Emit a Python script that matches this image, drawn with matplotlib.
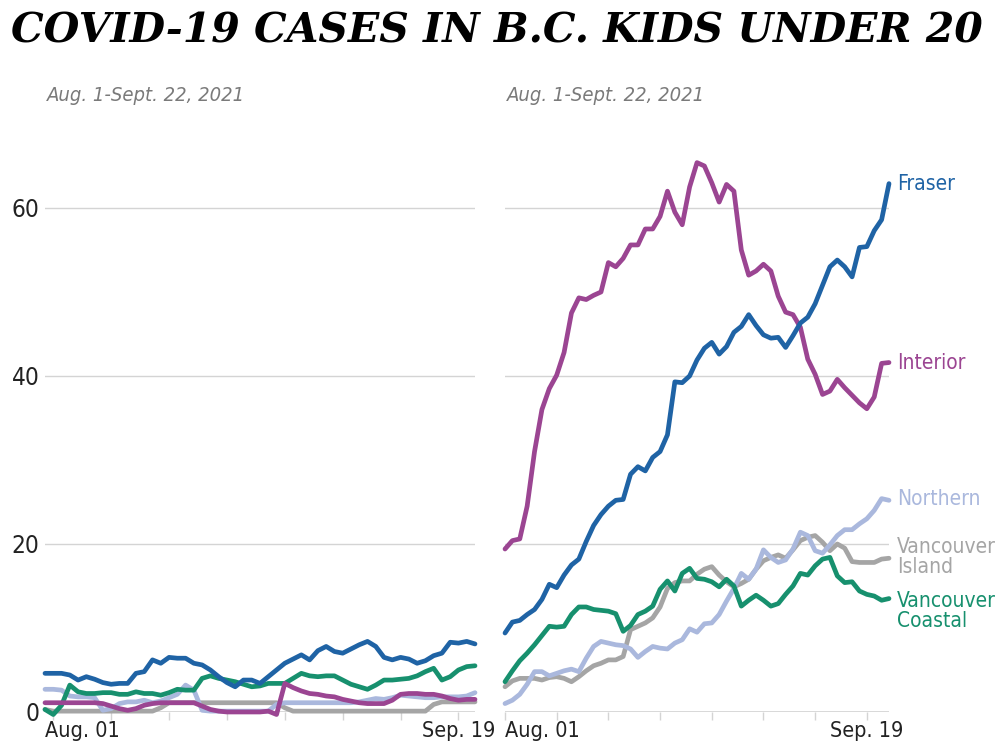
import matplotlib
matplotlib.use("Agg")
import matplotlib.pyplot as plt
import matplotlib.transforms as mtransforms
from matplotlib import font_manager
import numpy as np

# ---- data (7-day average cases) ----
# left panel: days relative to Aug. 1 (day 0), Jul. 31 .. Sep. 21
left_days = np.arange(-1, 52)
left_fraser = [4.6, 4.6, 4.6, 4.4, 3.8, 4.2, 3.9, 3.5, 3.3, 3.4, 3.4, 4.6, 4.8, 6.2, 5.8,
               6.5, 6.4, 6.4, 5.8, 5.6, 5.0, 4.2, 3.5, 3.0, 3.8, 3.8, 3.4, 4.2, 5.0, 5.8,
               6.3, 6.8, 6.2, 7.3, 7.8, 7.2, 7.0, 7.5, 8.0, 8.4, 7.8, 6.5, 6.2, 6.5, 6.3,
               5.8, 6.1, 6.7, 7.0, 8.3, 8.2, 8.4, 8.1]
left_interior = [1.1, 1.1, 1.1, 1.1, 1.1, 1.1, 1.1, 1.0, 0.7, 0.4, 0.2, 0.4, 0.8, 1.0, 1.1,
                 1.1, 1.1, 1.1, 1.1, 0.7, 0.3, 0.1, 0.0, 0.0, 0.0, 0.0, 0.0, 0.1, -0.3, 3.4,
                 2.9, 2.5, 2.2, 2.1, 1.9, 1.8, 1.5, 1.3, 1.1, 1.0, 1.0, 1.0, 1.4, 2.1, 2.2,
                 2.2, 2.1, 2.1, 1.9, 1.6, 1.4, 1.5, 1.5]
left_northern = [2.7, 2.7, 2.6, 1.9, 1.8, 1.8, 1.7, 0.2, 0.4, 1.0, 1.2, 1.2, 1.4, 1.1, 1.3,
                 1.7, 2.1, 3.2, 2.6, 0.2, 0.1, 0.1, 0.1, 0.1, 0.1, 0.1, 0.1, 0.1, 0.9, 1.1,
                 1.1, 1.1, 1.1, 1.1, 1.1, 1.1, 1.1, 1.1, 1.2, 1.4, 1.6, 1.5, 1.7, 2.0, 1.9,
                 1.8, 1.7, 1.7, 1.8, 1.8, 1.8, 1.9, 2.3]
left_island = [0.3, 0.1, 0.1, 0.1, 0.1, 0.1, 0.1, 0.1, 0.1, 0.1, 0.1, 0.1, 0.1, 0.1, 0.5,
               1.1, 1.1, 1.1, 1.1, 1.1, 1.1, 1.1, 1.1, 1.1, 1.1, 1.1, 1.1, 1.1, 1.1, 0.5,
               0.1, 0.1, 0.1, 0.1, 0.1, 0.1, 0.1, 0.1, 0.1, 0.1, 0.1, 0.1, 0.1, 0.1, 0.1,
               0.1, 0.1, 0.9, 1.2, 1.2, 1.2, 1.2, 1.2]
left_coastal = [0.3, -0.3, 0.8, 3.2, 2.4, 2.2, 2.2, 2.3, 2.3, 2.1, 2.1, 2.4, 2.2, 2.2, 2.0,
                2.3, 2.7, 2.6, 2.6, 4.0, 4.3, 4.0, 3.8, 3.6, 3.3, 3.0, 3.1, 3.4, 3.4, 3.4,
                4.0, 4.6, 4.3, 4.2, 4.3, 4.3, 3.8, 3.3, 3.0, 2.7, 3.2, 3.8, 3.8, 3.9, 4.0,
                4.3, 4.8, 5.2, 3.8, 4.2, 5.0, 5.4, 5.5]

# right panel: Aug. 1 (day 0) .. Sep. 22 (day 52)
right_days = np.arange(0, 53)
fraser = [9.4, 10.7, 10.9, 11.6, 12.2, 13.4, 15.2, 14.8, 16.3, 17.5, 18.2, 20.3, 22.2, 23.5,
          24.5, 25.2, 25.3, 28.3, 29.2, 28.7, 30.3, 31.0, 33.0, 39.3, 39.2, 40.0, 41.9, 43.3,
          44.0, 42.6, 43.5, 45.2, 45.9, 47.3, 46.0, 44.9, 44.5, 44.6, 43.4, 44.8, 46.3, 47.0,
          48.6, 50.8, 53.0, 53.8, 53.0, 51.8, 55.3, 55.4, 57.3, 58.6, 62.9]
interior = [19.4, 20.4, 20.6, 24.5, 31.0, 36.0, 38.5, 40.1, 42.8, 47.5, 49.3, 49.1, 49.6, 50.0,
            53.5, 53.0, 54.0, 55.6, 55.6, 57.5, 57.5, 59.0, 62.0, 59.5, 58.0, 62.5, 65.4, 65.0,
            63.0, 60.7, 62.8, 62.0, 55.0, 52.0, 52.5, 53.3, 52.5, 49.5, 47.6, 47.3, 45.8, 42.0,
            40.2, 37.8, 38.2, 39.6, 38.6, 37.7, 36.8, 36.1, 37.5, 41.5, 41.6]
northern = [1.0, 1.4, 2.1, 3.3, 4.8, 4.8, 4.3, 4.6, 4.9, 5.1, 4.8, 6.4, 7.8, 8.4, 8.2, 8.0,
            7.9, 7.5, 6.5, 7.2, 7.8, 7.6, 7.5, 8.2, 8.6, 9.9, 9.5, 10.5, 10.6, 11.6, 13.2, 14.7,
            16.5, 15.8, 17.0, 19.3, 18.4, 17.8, 18.1, 19.4, 21.4, 21.0, 19.2, 18.9, 19.9, 21.0,
            21.7, 21.7, 22.4, 23.0, 24.0, 25.4, 25.2]
island = [3.0, 3.7, 4.0, 4.0, 4.0, 3.8, 4.1, 4.2, 4.0, 3.6, 4.2, 4.9, 5.5, 5.8, 6.2, 6.2,
          6.6, 9.8, 10.2, 10.6, 11.2, 12.5, 14.7, 15.4, 15.6, 15.6, 16.4, 17.0, 17.3, 16.3,
          15.5, 14.9, 15.3, 15.8, 17.0, 18.0, 18.4, 18.7, 18.3, 19.3, 20.4, 20.8, 21.0, 20.2,
          19.2, 20.0, 19.5, 17.9, 17.8, 17.8, 17.8, 18.2, 18.3]
coastal = [3.6, 4.9, 6.1, 7.0, 8.0, 9.1, 10.2, 10.1, 10.2, 11.6, 12.5, 12.5, 12.2, 12.1,
           12.0, 11.7, 9.6, 10.3, 11.6, 12.0, 12.6, 14.6, 15.6, 14.4, 16.5, 17.1, 15.9, 15.8,
           15.5, 14.9, 15.8, 15.0, 12.6, 13.3, 13.9, 13.3, 12.6, 12.9, 14.0, 15.0, 16.5, 16.3,
           17.4, 18.2, 18.4, 16.2, 15.4, 15.5, 14.4, 14.0, 13.8, 13.3, 13.5]

week_ticks = np.arange(0, 50, 7)          # Aug. 1 .. Sep. 19
y_ticks = [0, 20, 40, 60]
title = "COVID-19 CASES IN B.C. KIDS UNDER 20"
subtitle = "Aug. 1-Sept. 22, 2021"
names = ["Vancouver\nIsland", "Northern", "Vancouver\nCoastal", "Interior", "Fraser"]

COLORS = {
    "Fraser": "#1f63a5",
    "Interior": "#9b4592",
    "Northern": "#aab8dd",
    "Vancouver\nIsland": "#a5a5a5",
    "Vancouver\nCoastal": "#17906e",
}

# look for a narrow sans face, the reference uses a condensed grotesque
narrow = None
for f in font_manager.fontManager.ttflist:
    if ("Condensed" in f.name or "Narrow" in f.name or f.stretch in ("condensed", "semi-condensed")) \
            and "Mono" not in f.name and "Serif" not in f.name:
        narrow = f
        break
if narrow is not None:
    SANS = [narrow.name, "DejaVu Sans"]
    plt.rcParams["font.stretch"] = narrow.stretch
    k = 1.0
else:
    SANS = ["Liberation Sans", "DejaVu Sans"]
    k = 0.86
plt.rcParams["font.family"] = SANS

fig = plt.figure(figsize=(10, 7.5), dpi=100)
ax_l = fig.add_axes([0.045, 0.0507, 0.43, 0.7616])
ax_r = fig.add_axes([0.505, 0.0507, 0.384, 0.7616])


def style_axis(ax, days):
    ax.set_xlim(days[0], days[-1])
    ax.set_ylim(0, 68)
    for s in ax.spines.values():
        s.set_visible(False)
    ax.set_yticks(y_ticks)
    ax.grid(axis="y", color="#d4d4d4", linewidth=1)
    ax.axhline(0, color="#d4d4d4", linewidth=1.2, zorder=1)
    ax.set_xticks(week_ticks)
    ax.set_xticklabels([])
    ax.tick_params(axis="x", length=6, color="#d4d4d4", width=1)
    ax.tick_params(axis="y", length=0)
    trans = mtransforms.blended_transform_factory(ax.transData, ax.transAxes)
    ax.text(days[0], -0.015, "Aug. 01", transform=trans, ha="left", va="top",
            fontsize=15.5 * k, color="#222222")
    ax.text(week_ticks[-1], -0.015, "Sep. 19", transform=trans, ha="center", va="top",
            fontsize=15.5 * k, color="#222222")
    ax.text(0.005, 1.062, subtitle, transform=ax.transAxes, ha="left", va="bottom",
            fontsize=14.5 * k, style="italic", color="#7a7a7a")


style_axis(ax_l, left_days)
style_axis(ax_r, right_days)
ax_l.set_yticklabels([str(v) for v in y_ticks], fontsize=17.5 * k, color="#222222")
ax_l.tick_params(axis="y", pad=4)
ax_r.set_yticklabels([])

left_series = [left_island, left_northern, left_coastal, left_interior, left_fraser]
right_series = [island, northern, coastal, interior, fraser]

for name, vals in zip(names, left_series):
    ax_l.plot(left_days, vals, color=COLORS[name], lw=3.4, solid_capstyle="round",
              solid_joinstyle="round", clip_on=False, zorder=3)

label_dy = {"Vancouver\nCoastal": -9, "Vancouver\nIsland": 1, "Northern": 1}
for name, vals in zip(names, right_series):
    ax_r.plot(right_days, vals, color=COLORS[name], lw=3.4, solid_capstyle="round",
              solid_joinstyle="round", clip_on=False, zorder=3)
    ax_r.annotate(name, xy=(right_days[-1], vals[-1]), xytext=(6, label_dy.get(name, 0)),
                  textcoords="offset points", ha="left", va="center", fontsize=15 * k,
                  color=COLORS[name], linespacing=1.0, annotation_clip=False)

fig.text(0.497, 0.958, title, ha="center", va="center", fontsize=29.5,
         family="DejaVu Serif", fontstretch="normal", weight="bold", style="italic",
         color="#000000")

fig.savefig("out.png", dpi=100)
